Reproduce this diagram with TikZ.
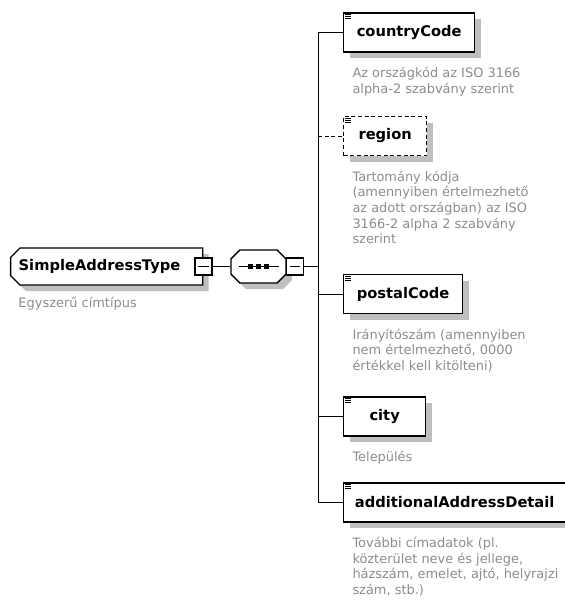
\documentclass[tikz,border=0pt]{standalone}
\usepackage{fontspec}
\setmainfont{DejaVu Sans}
\usetikzlibrary{positioning,shapes.misc,shadows}

\newcommand\docicon[1]{%
  \foreach \k in {2.5,4.5,6.5}
    \draw[line width=0.6pt] ([shift={(1.5,\k)}]#1.north west) -- ++(6,0);}

\begin{document}
\begin{tikzpicture}[x=0.75pt,y=-0.75pt,-,line width=0.75pt,
    boxshadow/.style={drop shadow={shadow xshift=4.5pt,shadow yshift=-4.5pt,fill=black!25,opacity=1}},
    elem node/.style={draw,line width=1pt,fill=white,boxshadow,anchor=west,minimum height=29.25pt,inner xsep=6pt,font=\bfseries\fontsize{11}{13}\selectfont},
    opt node/.style={elem node,dash pattern=on 3pt off 2pt},
    root node/.style={elem node,chamfered rectangle,chamfered rectangle corners={north west,south west},chamfered rectangle xsep=3.5pt,chamfered rectangle ysep=3.5pt,inner xsep=2pt,minimum width=144pt,minimum height=27.75pt},
    seq node/.style={draw,line width=1pt,fill=white,boxshadow,chamfered rectangle,chamfered rectangle xsep=4pt,chamfered rectangle ysep=4pt,minimum width=41.25pt,minimum height=24.75pt},
    minus/.style={draw,line width=1pt,fill=white,minimum size=12.75pt,inner sep=0pt,path picture={\draw[line width=0.75pt] ([xshift=2.5pt]path picture bounding box.west) -- ([xshift=-2.5pt]path picture bounding box.east);}},
    dot/.style={fill,inner sep=0pt,minimum width=4pt,minimum height=3.5pt},
    desc/.style={align=left,inner sep=0pt,text=black!45,font=\fontsize{9.7}{11.8}\selectfont}]

    \useasboundingbox (0,0) rectangle (565,601);

    \node[root node] (root) at (10,266.5) {\makebox[132pt][l]{SimpleAddressType}};
    \node[minus] (rootm) at (root.east) {};
    \coordinate (rootsw) at (root.west |- root.south);
    \node[desc,below right=8.3pt and 6pt of rootsw] (rootd) {Egyszerű címtípus};

    \node[seq node] (seq) at (258.5,266.5) {};
    \node[minus,anchor=west] (seqm) at ([xshift=-0.5pt]seq.east) {};
    \draw ([xshift=-15pt]seq.center) -- ([xshift=15pt]seq.center);
    \foreach \d in {-8,0,8}
        \node[dot] (d\d) at ([shift={(\d,0)}]seq.center) {};

    \coordinate (bus) at (318,266.5);

    % children of the sequence
    \node[elem node,minimum width=98.25pt] (cc) at (343,32.5) {countryCode};
    \node[opt node,minimum width=62.25pt] (reg) at (343,136) {region};
    \node[elem node,minimum width=89.25pt] (pc) at (343,294) {postalCode};
    \node[elem node,minimum width=61.5pt] (city) at (343,416.5) {city};
    \node[elem node,minimum width=166.5pt] (aad) at (343,502.5) {additionalAddressDetail};
    \foreach \n in {cc,reg,pc,city,aad}
        \docicon{\n};

    \node[desc,below right=10.5pt and 6.75pt of cc.south west] (ccd) {Az országkód az ISO 3166\\alpha-2 szabvány szerint};
    \node[desc,below right=10.5pt and 6.75pt of reg.south west] (regd) {Tartomány kódja\\(amennyiben értelmezhető\\az adott országban) az ISO\\3166-2 alpha 2 szabvány\\szerint};
    \node[desc,below right=10.5pt and 6.75pt of pc.south west] (pcd) {Irányítószám (amennyiben\\nem értelmezhető, 0000\\értékkel kell kitölteni)};
    \node[desc,below right=10.5pt and 6.75pt of city.south west] (cityd) {Település};
    \node[desc,below right=10.5pt and 6.75pt of aad.south west] (aadd) {További címadatok (pl.\\közterület neve és jellege,\\házszám, emelet, ajtó, helyrajzi\\szám, stb.)};

    \draw (rootm) -- (seq);
    \draw (seqm) -- (bus);
    \draw (bus |- cc) -- (bus |- aad);
    \path
        (bus |- cc) edge (cc)
        (bus |- reg) edge[dash pattern=on 3pt off 2pt] (reg)
        (bus |- pc) edge (pc)
        (bus |- city) edge (city)
        (bus |- aad) edge (aad)
        ;
\end{tikzpicture}
\end{document}
